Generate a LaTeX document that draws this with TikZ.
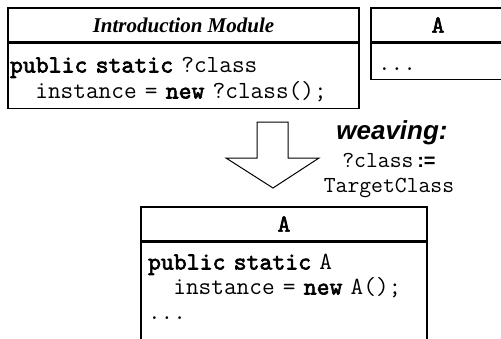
\documentclass[tikz,border=0pt]{standalone}
\usepackage{fontspec}
\setmainfont{Liberation Serif}
\setsansfont{Liberation Sans}
\newfontface\codebold{lmmono10-regular.otf}[FakeBold=2.5]
\usetikzlibrary{positioning}
\newcommand{\codesize}{\fontsize{24.6}{26}\selectfont}
\newcommand{\kw}[1]{{\codebold #1}}

\begin{document}
\begin{tikzpicture}[x=1pt,y=-1pt,line width=1.5pt,
  classhead/.style={draw,rectangle,minimum height=34pt,inner sep=0pt,font=\codesize\codebold},
  classbody/.style={draw,rectangle,align=left,inner ysep=5pt,font=\codesize\ttfamily}]
  \clip (0,0) rectangle (501,338);
  % aspect module
  \node[classhead,minimum width=351pt,font=\fontsize{21}{25}\selectfont\bfseries\itshape] (intro) at (183.5,25) {Introduction Module};
  \node[classbody,below=0pt of intro,text width=347pt,inner xsep=2pt,text height=24pt,text depth=31pt] (introcode) {%
    \kw{public static} ?class\\
    \phantom{xx}instance = \kw{new} ?class();};
  % target class before weaving
  \node[classhead,minimum width=134pt] (target) at (438,25) {A};
  \node[classbody,below=0pt of target,text width=120pt,inner xsep=7pt,text height=22pt,text depth=4pt] (targetcode) {...};
  % weaving arrow
  \draw[line width=1pt] (257,122) -- (288,122) -- (288,158) -- (319,158) -- (273,188)
    -- (226,158) -- (257,158) -- cycle;
  \node[font=\fontsize{26}{30}\selectfont\sffamily\bfseries\itshape] (weavelbl) at (392,133) {weaving:};
  \node[align=center,inner sep=0pt,font=\fontsize{23}{25}\selectfont\ttfamily] (bind) at (389,176) {%
    ?class\,{\fontsize{20}{25}\selectfont\sffamily\bfseries :=}\\TargetClass};
  % woven class
  \node[classhead,minimum width=286pt] (woven) at (284,224) {A};
  \node[classbody,below=0pt of woven,text width=272pt,inner xsep=7pt,text height=22pt,text depth=100pt,
    font=\fontsize{24.6}{25}\selectfont\ttfamily] (wovencode) {%
    \kw{public static} A\\
    \phantom{xx}instance = \kw{new} A();\\
    ...};
\end{tikzpicture}
\end{document}
